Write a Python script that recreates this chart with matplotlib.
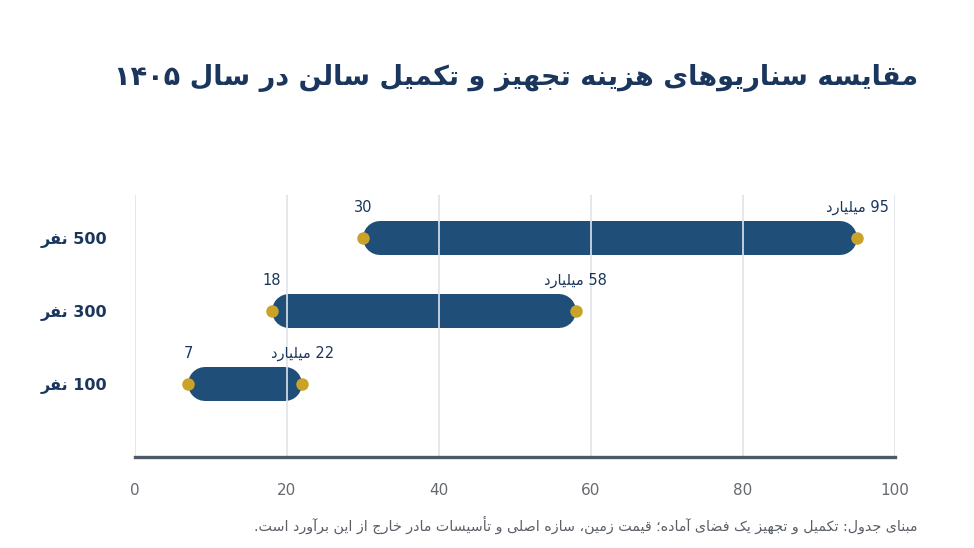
import matplotlib
matplotlib.use("Agg")
import matplotlib.pyplot as plt

# data
categories = ["100 نفر", "300 نفر", "500 نفر"]
min_cost = [7, 18, 30]
max_cost = [22, 58, 95]
x_ticks = [0, 20, 40, 60, 80, 100]
unit = "میلیارد"
title = "مقایسه سناریوهای هزینه تجهیز و تکمیل سالن در سال ۱۴۰۵"
note = "مبنای جدول: تکمیل و تجهیز یک فضای آماده؛ قیمت زمین، سازه اصلی و تأسیسات مادر خارج از این برآورد است."

# --- minimal arabic/persian shaping (matplotlib has no text shaping) ---
FORMS = {
    'آ': (0xFE81, 0xFE82), 'أ': (0xFE83, 0xFE84), 'ؤ': (0xFE85, 0xFE86),
    'إ': (0xFE87, 0xFE88), 'ا': (0xFE8D, 0xFE8E), 'ة': (0xFE93, 0xFE94),
    'د': (0xFEA9, 0xFEAA), 'ذ': (0xFEAB, 0xFEAC), 'ر': (0xFEAD, 0xFEAE),
    'ز': (0xFEAF, 0xFEB0), 'و': (0xFEED, 0xFEEE), 'ژ': (0xFB8A, 0xFB8B),
    'ئ': (0xFE89, 0xFE8A, 0xFE8B, 0xFE8C), 'ب': (0xFE8F, 0xFE90, 0xFE91, 0xFE92),
    'ت': (0xFE95, 0xFE96, 0xFE97, 0xFE98), 'ث': (0xFE99, 0xFE9A, 0xFE9B, 0xFE9C),
    'ج': (0xFE9D, 0xFE9E, 0xFE9F, 0xFEA0), 'ح': (0xFEA1, 0xFEA2, 0xFEA3, 0xFEA4),
    'خ': (0xFEA5, 0xFEA6, 0xFEA7, 0xFEA8), 'س': (0xFEB1, 0xFEB2, 0xFEB3, 0xFEB4),
    'ش': (0xFEB5, 0xFEB6, 0xFEB7, 0xFEB8), 'ص': (0xFEB9, 0xFEBA, 0xFEBB, 0xFEBC),
    'ض': (0xFEBD, 0xFEBE, 0xFEBF, 0xFEC0), 'ط': (0xFEC1, 0xFEC2, 0xFEC3, 0xFEC4),
    'ظ': (0xFEC5, 0xFEC6, 0xFEC7, 0xFEC8), 'ع': (0xFEC9, 0xFECA, 0xFECB, 0xFECC),
    'غ': (0xFECD, 0xFECE, 0xFECF, 0xFED0), 'ف': (0xFED1, 0xFED2, 0xFED3, 0xFED4),
    'ق': (0xFED5, 0xFED6, 0xFED7, 0xFED8), 'ل': (0xFEDD, 0xFEDE, 0xFEDF, 0xFEE0),
    'م': (0xFEE1, 0xFEE2, 0xFEE3, 0xFEE4), 'ن': (0xFEE5, 0xFEE6, 0xFEE7, 0xFEE8),
    'ه': (0xFEE9, 0xFEEA, 0xFEEB, 0xFEEC), 'پ': (0xFB56, 0xFB57, 0xFB58, 0xFB59),
    'چ': (0xFB7A, 0xFB7B, 0xFB7C, 0xFB7D), 'ک': (0xFB8E, 0xFB8F, 0xFB90, 0xFB91),
    'گ': (0xFB92, 0xFB93, 0xFB94, 0xFB95), 'ی': (0xFBFC, 0xFBFD, 0xFBFE, 0xFBFF),
}
LAM_ALEF = {'آ': (0xFEF5, 0xFEF6), 'أ': (0xFEF7, 0xFEF8), 'إ': (0xFEF9, 0xFEFA), 'ا': (0xFEFB, 0xFEFC)}
DIGITS = set("0123456789۰۱۲۳۴۵۶۷۸۹")


def dual(c):
    return c in FORMS and len(FORMS[c]) == 4


def fa(text):
    out = []
    i = 0
    n = len(text)
    while i < n:
        c = text[i]
        if c not in FORMS:
            if c != '\u200c':
                out.append(c)
            i += 1
            continue
        prev = text[i - 1] if i > 0 else ''
        nxt = text[i + 1] if i + 1 < n else ''
        jp = dual(prev)
        if c == 'ل' and nxt in LAM_ALEF:
            out.append(chr(LAM_ALEF[nxt][1 if jp else 0]))
            i += 2
            continue
        jn = dual(c) and nxt in FORMS
        f = FORMS[c]
        if jp and jn:
            g = f[3]
        elif jn:
            g = f[2]
        elif jp:
            g = f[1]
        else:
            g = f[0]
        out.append(chr(g))
        i += 1
    s = ''.join(out)[::-1]
    # put digit runs back in reading order
    res, run = [], []
    for ch in s:
        if ch in DIGITS:
            run.append(ch)
        else:
            if run:
                res.extend(run[::-1])
                run = []
            res.append(ch)
    res.extend(run[::-1])
    return ''.join(res)


navy = "#1b365d"
bar_color = "#1f4e79"
gold = "#c9a227"
grid_color = "#dfe4ea"

plt.rcParams['font.family'] = ['DejaVu Sans']

fig = plt.figure(figsize=(9.74, 5.48), dpi=100)
ax = fig.add_axes([135 / 974, 1 - 457 / 548, 760 / 974, 262 / 548])

y = list(range(len(categories)))
lw_px = 34
ax_w_px = 760
r = (lw_px / 2) / ax_w_px * 100  # cap radius in data units

for yi, lo, hi in zip(y, min_cost, max_cost):
    ax.plot([lo + r, hi - r], [yi, yi], color=bar_color, lw=lw_px * 0.72,
            solid_capstyle='round', zorder=2)
    ax.plot([lo, hi], [yi, yi], 'o', color=gold, ms=9, mec='none', zorder=4)
    ax.annotate(str(lo), (lo, yi), xytext=(0, 31), textcoords='offset pixels',
                ha='center', va='center', fontsize=10.5, color=navy)
    ax.annotate(fa(f"{hi} {unit}"), (hi, yi), xytext=(0, 31), textcoords='offset pixels',
                ha='center', va='center', fontsize=10.5, color=navy)

ax.set_xlim(0, 100)
ax.set_ylim(-1, 2.59)
ax.set_xticks(x_ticks)
ax.set_xticklabels([str(t) for t in x_ticks], fontsize=11, color="#666a70")
ax.set_yticks(y)
ax.set_yticklabels([fa(c) for c in categories], fontsize=11.5, fontweight='bold', color=navy)
ax.tick_params(axis='x', length=0, pad=19)
ax.tick_params(axis='y', length=0, pad=20)
ax.grid(axis='x', color=grid_color, lw=1.2, zorder=3)
ax.set_axisbelow(False)
for s in ['top', 'right', 'left']:
    ax.spines[s].set_visible(False)
ax.spines['bottom'].set(color="#4f5866", linewidth=2.4, zorder=5)

fig.text(918 / 974, 1 - 78 / 548, fa(title), ha='right', va='center',
         fontsize=19.5, fontweight='bold', color=navy)
fig.text(918 / 974, 1 - 525 / 548, fa(note), ha='right', va='center',
         fontsize=10.3, color="#5a5f66")

fig.savefig("out.png", dpi=100)
